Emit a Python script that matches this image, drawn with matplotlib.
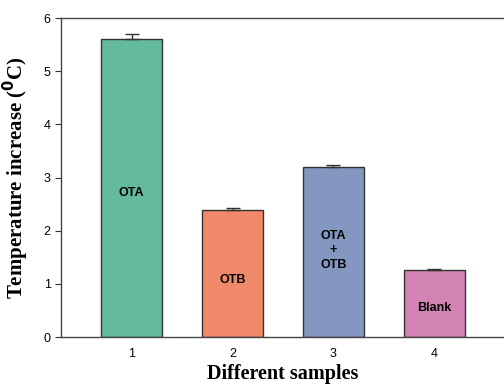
import matplotlib
matplotlib.use("Agg")
import matplotlib.pyplot as plt

# values
samples = [1, 2, 3, 4]
temp_rise = [5.60, 2.39, 3.20, 1.26]
temp_err = [0.09, 0.04, 0.04, 0.02]
bar_colors = ["#64BA9F", "#EF8969", "#8497C0", "#D382B4"]
bar_text = ["OTA", "OTB", "OTA\n+\nOTB", "Blank"]
text_y = [2.7, 1.07, 1.63, 0.55]

fig = plt.figure(figsize=(5.04, 3.87), dpi=100)
ax = fig.add_axes([61/504, 50/387, 444/504, 319/387])

ax.bar(samples, temp_rise, width=0.6, color=bar_colors,
       edgecolor="#333333", linewidth=1.0, zorder=2)
ax.errorbar(samples, temp_rise, yerr=[[0]*4, temp_err], fmt="none",
            ecolor="#333333", elinewidth=1.0, capsize=5, capthick=1.0, zorder=3)

for x, y, t in zip(samples, text_y, bar_text):
    ax.text(x, y, t, ha="center", va="center", fontsize=9,
            fontweight="bold", family="Liberation Sans", linespacing=1.3)

ax.set_xlim(0.3, 4.7)
ax.set_ylim(0, 6)
ax.set_xticks(samples)
ax.set_yticks(range(7))
ax.tick_params(labelsize=9, direction="out", length=4, width=0.8, color="#333333")
for lbl in ax.get_xticklabels() + ax.get_yticklabels():
    lbl.set_family("Liberation Sans")
ax.tick_params(axis="x", length=0, pad=8)
ax.spines["right"].set_visible(False)
for s in ["left", "top", "bottom"]:
    ax.spines[s].set_color("#444444")
    ax.spines[s].set_linewidth(1.0)

ax.set_ylabel(r"Temperature increase ($\mathbf{^{0}}$C)", fontsize=15,
              fontweight="bold", family="Liberation Serif", labelpad=9)
ax.set_xlabel("Different samples", fontsize=14.5, fontweight="bold",
              family="Liberation Serif", labelpad=3)

fig.savefig("out.png", dpi=100)
